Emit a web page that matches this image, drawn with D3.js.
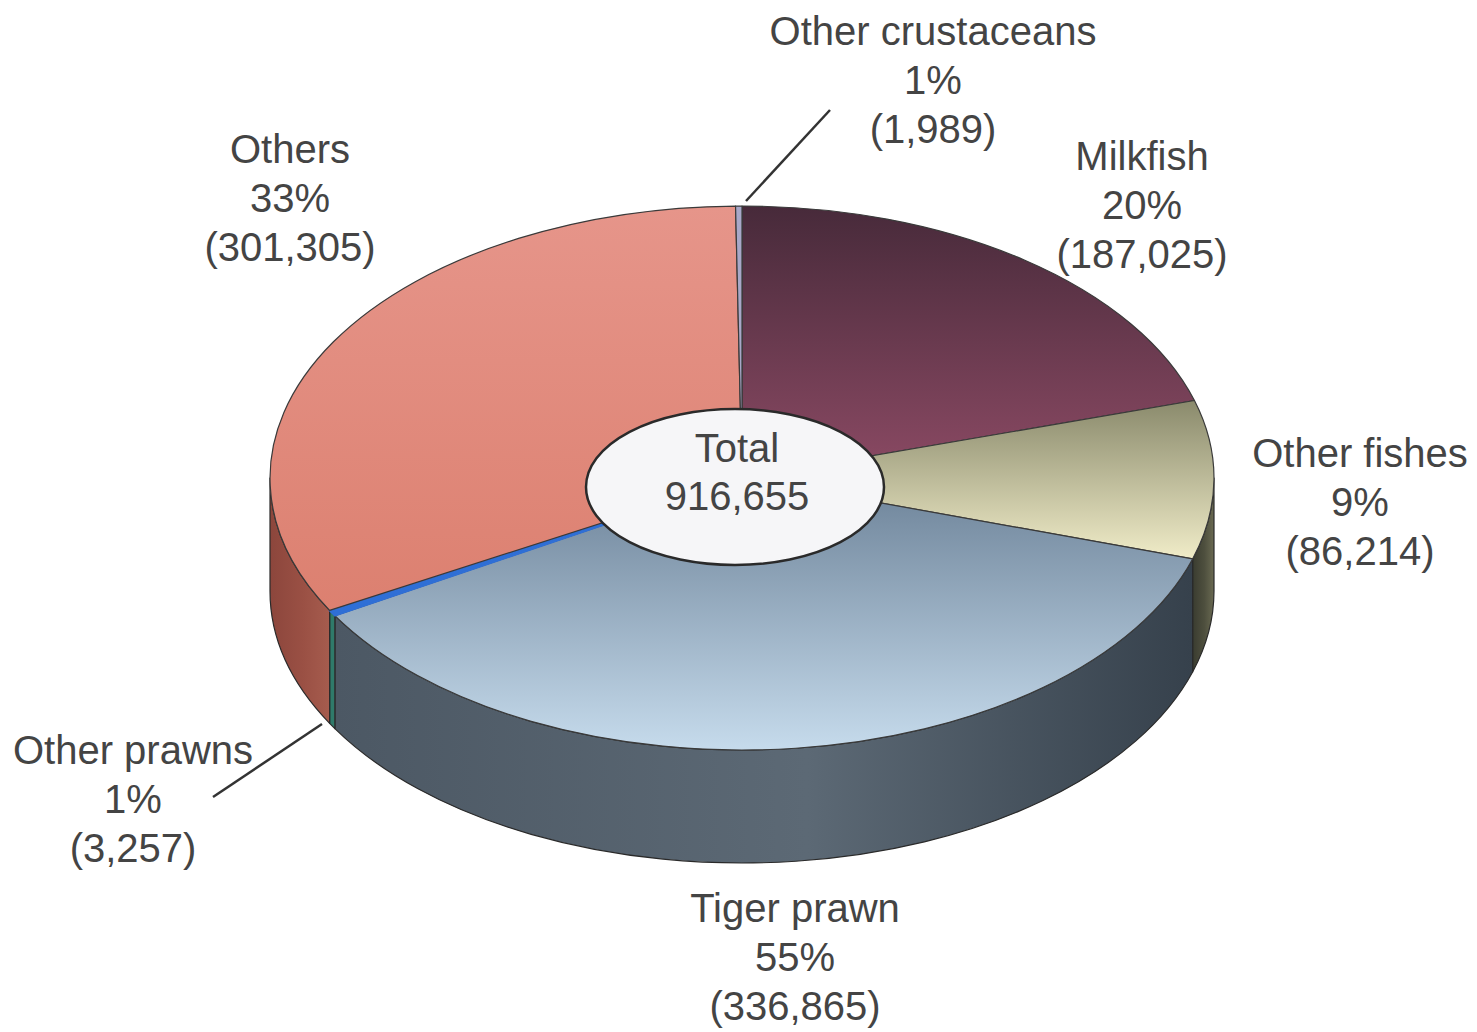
<!DOCTYPE html>
<html><head><meta charset="utf-8">
<script src="https://cdn.jsdelivr.net/npm/d3@7"></script>
<style>body{margin:0;background:#fff}svg{display:block}</style>
</head><body>
<svg id="chart" width="1477" height="1032"></svg>
<script>
// ---- data ----
const categories = ["Milkfish", "Other fishes", "Tiger prawn", "Other prawns", "Others", "Other crustaceans"];
const values = [187025, 86214, 336865, 3257, 301305, 1989];
const percentLabels = ["20%", "9%", "55%", "1%", "33%", "1%"];
const valueLabels = ["(187,025)", "(86,214)", "(336,865)", "(3,257)", "(301,305)", "(1,989)"];
const totalLabels = ["Total", "916,655"];

// ---- layout / style ----
const W = 1477, H = 1032;
const cx = 742, cy = 478, rx = 472, ry = 272, depth = 113;
const hole = {cx: 735, cy: 487, rx: 149, ry: 78};
const fontSize = 40, lineH = 49;
const textColor = "#444444";

const labelPos = {
  "Milkfish": [1142, 170],
  "Other fishes": [1360, 467],
  "Tiger prawn": [795, 922],
  "Other prawns": [133, 764],
  "Others": [290, 163],
  "Other crustaceans": [933, 45]
};
const leaders = {
  "Other crustaceans": [[830, 110], [746, 201]],
  "Other prawns": [[213, 797], [322, 724]]
};

const topColors = {
  "Milkfish": ["#472a3a", "#8c4a64"],
  "Other fishes": ["#8a8a6c", "#f0ecc8"],
  "Tiger prawn": ["#6c8298", "#c6dbec"],
  "Other prawns": ["#2f6fd6", "#2f6fd6"],
  "Others": ["#e6958a", "#dc8070"],
  "Other crustaceans": ["#a8a8c8", "#a8a8c8"]
};
const sideColors = {
  "Milkfish": ["#5a3040", "#5a3040", "#5a3040"],
  "Other fishes": ["#3a3c30", "#4e4f3e", "#6a6a52"],
  "Tiger prawn": ["#4c5864", "#5c6975", "#36414c"],
  "Other prawns": ["#2f7a6a", "#2f7a6a", "#2f7a6a"],
  "Others": ["#8c463c", "#9a5044", "#a65c4e"],
  "Other crustaceans": ["#888", "#888", "#888"]
};

const svg = d3.select("#chart");
svg.append("rect").attr("width", W).attr("height", H).attr("fill", "#ffffff");
const defs = svg.append("defs");

const xs = d3.scaleLinear().domain([-1, 1]).range([cx - rx, cx + rx]);
const ys = d3.scaleLinear().domain([-1, 1]).range([cy - ry, cy + ry]);
const pt = (a, dz = 0) => [xs(Math.sin(a)), ys(-Math.cos(a)) + dz];

const pie = d3.pie().sort(null).value(d => d.value).startAngle(0).endAngle(2 * Math.PI);
const data = categories.map((c, i) => ({name: c, value: values[i], pct: percentLabels[i], val: valueLabels[i]}));
const arcs = pie(data);

// gradients
arcs.forEach((d, i) => {
  const [c0, c1] = topColors[d.data.name];
  const g = defs.append("linearGradient").attr("id", "top" + i)
    .attr("x1", 0).attr("y1", 0).attr("x2", 0).attr("y2", 1);
  g.append("stop").attr("offset", "0%").attr("stop-color", c0);
  g.append("stop").attr("offset", "100%").attr("stop-color", c1);
  const [s0, s1, s2] = sideColors[d.data.name];
  const gs = defs.append("linearGradient").attr("id", "side" + i)
    .attr("x1", 0).attr("y1", 0).attr("x2", 1).attr("y2", 0);
  gs.append("stop").attr("offset", "0%").attr("stop-color", s0);
  gs.append("stop").attr("offset", "55%").attr("stop-color", s1);
  gs.append("stop").attr("offset", "100%").attr("stop-color", s2);
});

function topPath(d) {
  const [x0, y0] = pt(d.startAngle), [x1, y1] = pt(d.endAngle);
  const large = (d.endAngle - d.startAngle) > Math.PI ? 1 : 0;
  return `M${cx},${cy}L${x0},${y0}A${rx},${ry} 0 ${large} 1 ${x1},${y1}Z`;
}
function sidePath(d) {
  const s = Math.max(d.startAngle, Math.PI / 2), e = Math.min(d.endAngle, 3 * Math.PI / 2);
  if (e <= s) return null;
  const [x0, y0] = pt(s), [x1, y1] = pt(e);
  const [bx0, by0] = pt(s, depth), [bx1, by1] = pt(e, depth);
  return `M${x0},${y0}A${rx},${ry} 0 0 1 ${x1},${y1}L${bx1},${by1}A${rx},${ry} 0 0 0 ${bx0},${by0}Z`;
}

// sides
const sideG = svg.append("g");
arcs.forEach((d, i) => {
  const p = sidePath(d);
  if (!p) return;
  sideG.append("path").attr("d", p).attr("fill", `url(#side${i})`)
    .attr("stroke", "#2a2a2a").attr("stroke-width", 1.2).attr("stroke-linejoin", "round");
});

// tops
const topG = svg.append("g");
arcs.forEach((d, i) => {
  topG.append("path").attr("d", topPath(d)).attr("fill", `url(#top${i})`)
    .attr("stroke", d.data.name === "Other prawns" ? "#2f6fd6" : "#3a3a3a")
    .attr("stroke-width", d.data.name === "Other prawns" ? 2 : 1.2)
    .attr("stroke-linejoin", "round");
});

// center hole
svg.append("ellipse").attr("cx", hole.cx).attr("cy", hole.cy).attr("rx", hole.rx).attr("ry", hole.ry)
  .attr("fill", "#f6f6f8").attr("stroke", "#2a2a2a").attr("stroke-width", 2.5);
svg.append("g").selectAll("text").data(totalLabels).join("text")
  .attr("x", hole.cx + 2).attr("y", (d, i) => 462 + i * 48)
  .attr("text-anchor", "middle").attr("font-family", "Liberation Sans, Arial, sans-serif")
  .attr("font-size", fontSize).attr("fill", textColor).text(d => d);

// leader lines
Object.entries(leaders).forEach(([k, pts]) => {
  svg.append("line").attr("x1", pts[0][0]).attr("y1", pts[0][1]).attr("x2", pts[1][0]).attr("y2", pts[1][1])
    .attr("stroke", "#333").attr("stroke-width", 2.5);
});

// labels
const lab = svg.append("g").attr("font-family", "Liberation Sans, Arial, sans-serif")
  .attr("font-size", fontSize).attr("fill", textColor).attr("text-anchor", "middle");
arcs.forEach(d => {
  const [x, y] = labelPos[d.data.name];
  [d.data.name, d.data.pct, d.data.val].forEach((t, j) => {
    lab.append("text").attr("x", x).attr("y", y + j * lineH).text(t);
  });
});
</script>
</body></html>
